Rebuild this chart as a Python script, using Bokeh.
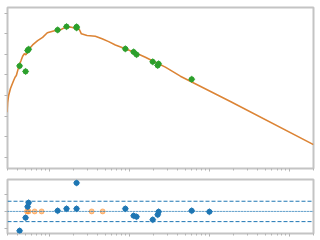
from bokeh.plotting import figure
from bokeh.layouts import column
from bokeh.models import FixedTicker, CustomJSTickFormatter, Range1d, Span
from bokeh.embed import file_html
from bokeh.resources import INLINE

# model curve
model_x = [0.296, 0.301, 0.310, 0.326, 0.338, 0.358, 0.373, 0.387, 0.402, 0.422,
           0.443, 0.464, 0.487, 0.511, 0.526, 0.562, 0.618, 0.714, 0.824, 0.944,
           1.189, 1.372, 1.585, 1.83, 2.113, 2.371, 2.512, 2.96, 3.758, 4.56,
           5.51, 6.68, 8.91, 11.89, 15.85, 21.13, 28.18, 43.4, 183.0, 2000.0]
model_y = [2.19, 2.67, 3.00, 3.33, 3.49, 3.73, 3.89, 3.97, 4.21, 4.49,
           4.70, 4.91, 5.03, 4.98, 5.10, 5.27, 5.46, 5.67, 5.83, 6.05,
           6.16, 6.19, 6.32, 6.33, 6.27, 6.21, 6.00, 5.92, 5.88, 5.76,
           5.62, 5.46, 5.27, 5.08, 4.86, 4.62, 4.38, 3.94, 2.71, 0.61]

# observed points
obs_x = [0.425, 0.505, 0.535, 0.551, 1.27, 1.64, 2.19, 2.19, 8.91, 11.3,
         12.3, 19.6, 22.6, 23.2, 60.1]
obs_y = [4.44, 4.17, 5.19, 5.25, 6.19, 6.35, 6.34, 6.29, 5.27, 5.12,
         4.99, 4.64, 4.46, 4.54, 3.79]

# residuals
res_x = [0.425, 0.505, 0.535, 0.551, 1.27, 1.64, 2.19, 2.19, 8.91, 11.3,
         12.3, 19.6, 22.6, 23.2, 60.1, 100.0]
res_y = [-0.57, -0.185, 0.138, 0.256, 0.02, 0.08, 0.84, 0.08, 0.08, -0.127,
         -0.156, -0.244, -0.097, -0.01, 0.02, -0.01]

# limits (residual zero)
lim_x = [0.526, 0.551, 0.655, 0.801, 3.38, 4.64]
lim_y = [0, 0, 0, 0, 0, 0]

major_x = [1, 10, 100, 1000]
minor_x = [m * d for d in (0.1, 1, 10, 100, 1000) for m in range(2, 10)]
top_yticks = [0, 1, 2, 3, 4, 5, 6, 7]
bot_yticks = [-0.5, 0, 0.5]

GRAY = "#c4c4c4"
TICK = "#b4b4b4"
blank = CustomJSTickFormatter(code="return ''")


def style(p, yticks):
    p.outline_line_color = GRAY
    p.outline_line_width = 2
    p.grid.visible = False
    p.xaxis.ticker = FixedTicker(ticks=major_x, minor_ticks=minor_x)
    p.yaxis.ticker = FixedTicker(ticks=yticks)
    for ax in (p.xaxis[0], p.yaxis[0]):
        ax.axis_line_color = None
        ax.major_tick_line_color = TICK
        ax.minor_tick_line_color = TICK
        ax.major_tick_out = 3
        ax.major_tick_in = 0
        ax.minor_tick_out = 2
        ax.minor_tick_in = 0
        ax.major_label_standoff = 0
        ax.formatter = CustomJSTickFormatter(code="return ''")
    p.yaxis.minor_tick_line_color = None


p1 = figure(width=320, height=174, x_axis_type="log", output_backend="svg",
            toolbar_location=None, x_range=Range1d(0.3, 2000),
            y_range=Range1d(-0.55, 7.28),
            min_border_left=7, min_border_right=7, min_border_top=7,
            min_border_bottom=6)
style(p1, top_yticks)
p1.line(model_x, model_y, line_color="#dc8435", line_width=1.6)
p1.scatter(obs_x, obs_y, marker="circle", size=5, fill_color="#2ca02c",
           line_color="#2ca02c")
p1.scatter(obs_x, obs_y, marker="cross", size=7, line_color="#2ca02c",
           line_width=1, alpha=0.7)

p2 = figure(width=320, height=66, x_axis_type="log", output_backend="svg",
            toolbar_location=None, x_range=p1.x_range,
            y_range=Range1d(-0.65, 0.94),
            min_border_left=7, min_border_right=7, min_border_top=5,
            min_border_bottom=7)
style(p2, bot_yticks)
p2.add_layout(Span(location=0.3, dimension="width", line_color="#1f77b4",
                   line_dash="4 2", line_width=1))
p2.add_layout(Span(location=-0.3, dimension="width", line_color="#1f77b4",
                   line_dash="4 2", line_width=1))
p2.add_layout(Span(location=0, dimension="width", line_color="#1f77b4",
                   line_alpha=0.35, line_width=1))
p2.add_layout(Span(location=0, dimension="width", line_color="#1f77b4",
                   line_dash="1 2", line_width=1))
p2.scatter(lim_x, lim_y, marker="circle", size=5, fill_color="#ff7f0e",
           line_color="#ff7f0e", alpha=0.45)
p2.scatter(res_x, res_y, marker="circle", size=5, fill_color="#1f77b4",
           line_color="#1f77b4")
p2.scatter(res_x, res_y, marker="cross", size=7, line_color="#1f77b4",
           line_width=1, alpha=0.6)

layout = column(p1, p2, spacing=0)
open("out.html", "w").write(file_html(layout, INLINE))
